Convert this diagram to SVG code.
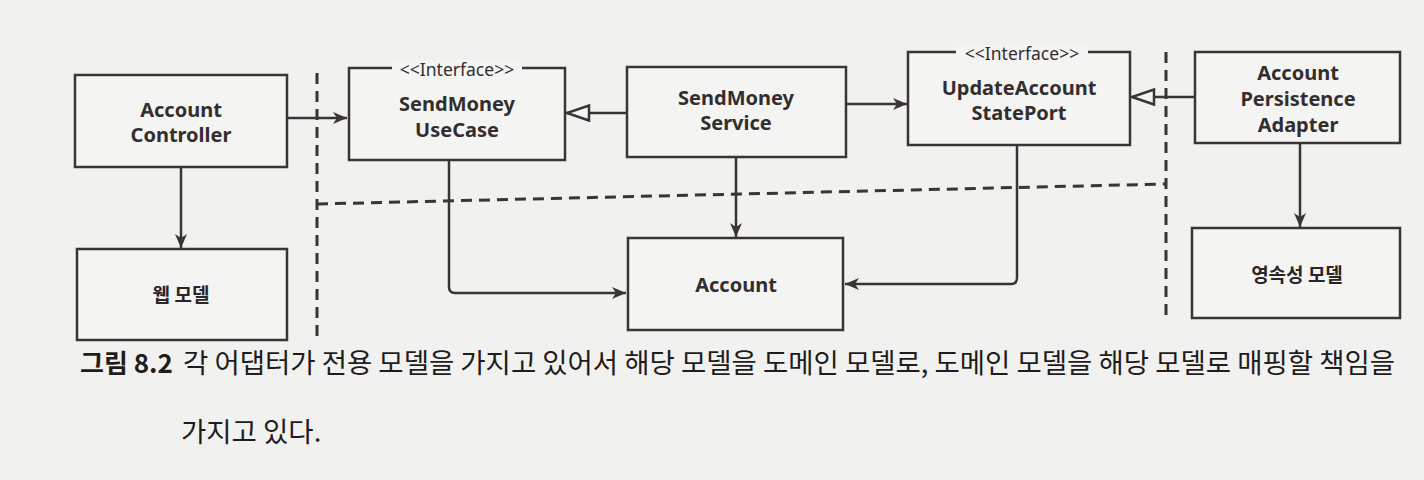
<svg xmlns="http://www.w3.org/2000/svg" width="1424" height="480" viewBox="0 0 1424 480">
<style>
.bg{fill:#f1f1ef}
.box{fill:#f4f4f2;stroke:#3a3434;stroke-width:2.5}
.lbl{font-family:"Noto Sans","Liberation Sans",sans-serif;font-weight:700;font-size:20px;fill:#332e2e;text-anchor:middle}
.ko{font-family:"Noto Sans CJK KR","Noto Sans",sans-serif;font-weight:700;font-size:19px;fill:#2a2626;text-anchor:middle}
.st{font-family:"Noto Sans","Liberation Sans",sans-serif;font-size:17.5px;fill:#332e2e;text-anchor:middle}
.gap{fill:#f4f4f2}
.con{fill:none;stroke:#3a3434;stroke-width:2.5}
.dash{fill:none;stroke:#3a3434;stroke-width:3;stroke-dasharray:11 7}
.cap{font-family:"Noto Sans CJK KR",sans-serif;font-size:27.5px;fill:#1f1c1c}
.capb{font-family:"Noto Sans CJK KR",sans-serif;font-size:26px;font-weight:700;fill:#1f1c1c}
</style>
<defs>
<marker id="arr" markerUnits="userSpaceOnUse" markerWidth="18" markerHeight="14" refX="15" refY="7" orient="auto">
<path d="M1,1 L15,7 L1,13 L5,7 z" fill="#3a3434"/>
</marker>
<marker id="tri" markerUnits="userSpaceOnUse" markerWidth="28" markerHeight="22" refX="24" refY="10" orient="auto">
<path d="M2,2.5 L24,10 L2,17.5 z" fill="#f4f4f2" stroke="#3a3434" stroke-width="2.5"/>
</marker>
</defs>
<rect class="bg" x="0" y="0" width="1424" height="480"/>

<g id="boundaries">
<line class="dash" x1="317" y1="73" x2="317" y2="340"/>
<line class="dash" x1="317" y1="204" x2="1165" y2="184"/>
<line class="dash" x1="1166" y1="52" x2="1166" y2="320"/>
</g>

<g id="connectors">
<path class="con" d="M287,118 L347,118" marker-end="url(#arr)"/>
<path class="con" d="M181,167 L181,248" marker-end="url(#arr)"/>
<path class="con" d="M627,113 L567,113" marker-end="url(#tri)"/>
<path class="con" d="M846,104 L907,104" marker-end="url(#arr)"/>
<path class="con" d="M1195,97 L1132,97" marker-end="url(#tri)"/>
<path class="con" d="M1300,143 L1300,227" marker-end="url(#arr)"/>
<path class="con" d="M736,157 L736,237" marker-end="url(#arr)"/>
<path class="con" d="M449,160 L449,287 Q449,293 455,293 L626,293" marker-end="url(#arr)"/>
<path class="con" d="M1017,145 L1017,278 Q1017,284 1011,284 L845,284" marker-end="url(#arr)"/>
</g>

<g id="account-controller">
<rect class="box" x="75" y="75" width="212" height="92"/>
<text class="lbl" x="181" y="117">Account</text>
<text class="lbl" x="181" y="142">Controller</text>
</g>

<g id="web-model">
<rect class="box" x="77" y="249" width="210" height="91"/>
<text class="ko" x="181" y="302">웹 모델</text>
</g>

<g id="send-money-usecase">
<rect class="box" x="349" y="68" width="216" height="92"/>
<rect class="gap" x="392" y="60" width="130" height="16"/>
<text class="st" x="457" y="76">&lt;&lt;Interface&gt;&gt;</text>
<text class="lbl" x="457" y="111">SendMoney</text>
<text class="lbl" x="457" y="137">UseCase</text>
</g>

<g id="send-money-service">
<rect class="box" x="627" y="67" width="219" height="90"/>
<text class="lbl" x="736" y="105">SendMoney</text>
<text class="lbl" x="736" y="130">Service</text>
</g>

<g id="update-account-state-port">
<rect class="box" x="908" y="52" width="222" height="93"/>
<rect class="gap" x="956" y="44" width="132" height="16"/>
<text class="st" x="1022" y="60">&lt;&lt;Interface&gt;&gt;</text>
<text class="lbl" x="1019" y="95">UpdateAccount</text>
<text class="lbl" x="1019" y="120">StatePort</text>
</g>

<g id="account-persistence-adapter">
<rect class="box" x="1195" y="52" width="205" height="91"/>
<text class="lbl" x="1298" y="80">Account</text>
<text class="lbl" x="1298" y="106">Persistence</text>
<text class="lbl" x="1298" y="132">Adapter</text>
</g>

<g id="persistence-model">
<rect class="box" x="1192" y="228" width="208" height="90"/>
<text class="ko" x="1297" y="282">영속성 모델</text>
</g>

<g id="account">
<rect class="box" x="628" y="238" width="215" height="92"/>
<text class="lbl" x="736" y="292">Account</text>
</g>

<g id="caption">
<text class="capb" x="80" y="373">그림 8.2</text>
<text class="cap" x="183" y="373" textLength="1212" lengthAdjust="spacing">각 어댑터가 전용 모델을 가지고 있어서 해당 모델을 도메인 모델로, 도메인 모델을 해당 모델로 매핑할 책임을</text>
<text class="cap" x="181" y="442">가지고 있다.</text>
</g>
</svg>
